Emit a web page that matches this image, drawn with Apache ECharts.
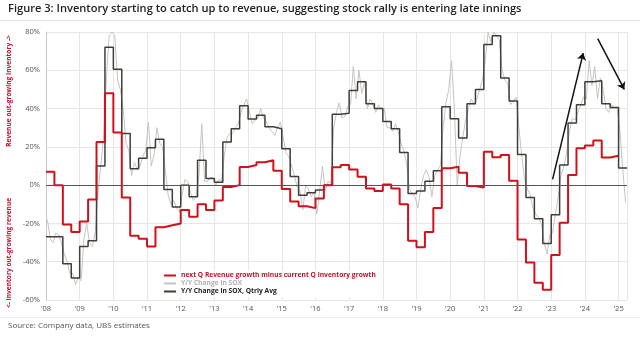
<!DOCTYPE html>
<html><head><meta charset="utf-8">
<script src="https://cdn.jsdelivr.net/npm/echarts@6/dist/echarts.min.js"></script>
<style>html,body{margin:0;padding:0;background:#fff}#c{width:640px;height:339px}</style>
</head><body><div id="c"></div>
<script>
// ---- data ----
const startYear = 2008;
// next Q Revenue growth minus current Q inventory growth, quarterly from 2008Q1 (%)
const redVals = [
  7, 0, -20.5, -24.5,
  -19, -7.5, 22.5, 48,
  27.5, -6.5, -26.5, -28,
  -32, -22, -21, -20,
  -13, -16.5, -10, -13,
  -8, -1, 0, 9.5,
  10.5, 12, 13, 7.5,
  -2, -8.5, -11, -12,
  -7, 0, 9.3, 10.5,
  8.2, 4.4, -1.7, -3,
  0.3, -1.7, -10, -29,
  -32.5, -24.5, -12, 8.8,
  9.6, 6.5, -0.5, -1.2,
  17.5, 14.6, 15.8, 2.3,
  -28.4, -40.4, -51, -54.7,
  -36.5, -19.6, 5.3, 19.3,
  20.7, 23.3, 14.4, 15.4
];
// Y/Y Change in SOX, Qtrly Avg, quarterly from 2008Q1 (%)
const blackVals = [
  -27, -27, -41, -48.5,
  -32, -29, 10, 72,
  60.5, 27, 8.5, 14,
  19.5, 24, -2.3, -11.4,
  0, -6, 13, 3.5,
  1.5, 22.5, 29.5, 41.5,
  34.5, 36.5, 30.5, 29.5,
  19, 4.5, -5.3, -4,
  -2.5, 0, 37, 37.5,
  49.5, 54, 42.5, 40,
  33.3, 29.5, 17, -4.4,
  -3, 2, 7.5, 41,
  34.7, 24.6, 42.5, 50,
  73.5, 78, 56, 44,
  16, -6.5, -17.5, -30.5,
  -15.5, 10.5, 32.5, 42,
  54, 54.5, 42.5, 40.5,
  9
];
// Y/Y Change in SOX, monthly from Jan 2008 (%)
const grayVals = [
  -18, -28, -30, -25, -26, -30, -36, -40, -46, -46, -52, -48,
  -50, -28, -20, -30, -32, -25, -5, 10, 25, 55, 78, 80,
  78, 55, 50, 40, 22, 18, 5, 12, 8, 10, 15, 18,
  33, 10, 16, 30, 22, 20, 8, -5, -10, -8, -12, -14,
  -5, 3, 2, -4, -8, -6, 5, 32, 2, 2, 4, 4,
  0, 3, 2, 15, 25, 27, 27, 30, 32, 38, 42, 45,
  38, 32, 34, 35, 40, 35, 33, 30, 28, 26, 30, 33,
  25, 17, 15, 10, 5, -1, -3, -13, 0, -2, -6, -4,
  -15, -3, 10, -3, 2, 1, 30, 38, 43, 35, 36, 41,
  42, 62, 45, 60, 48, 54, 40, 45, 42, 38, 42, 40,
  40, 30, 30, 28, 32, 28, 22, 18, 11, -2, -5, -6,
  -12, -2, 5, 8, 4, -6, 5, 8, 10, 30, 43, 50,
  65, 40, 0, 15, 25, 34, 40, 45, 42, 45, 50, 55,
  65, 80, 75, 80, 78, 76, 60, 55, 53, 42, 44, 46,
  30, 15, 3, -2, -5, -12, -15, -17, -20, -30, -36, -26,
  -25, -15, -6, 5, 10, 17, 28, 35, 34, 38, 42, 46,
  45, 65, 52, 62, 45, 56, 50, 40, 38, 42, 40, 40,
  28, 8, -9
];
const yearLabels = ["'08","'09","'10","'11","'12","'13","'14","'15","'16","'17","'18","'19","'20","'21","'22","'23","'24","'25"];
const yTicks = [-60, -40, -20, 0, 20, 40, 60, 80];
const seriesNames = ['next Q Revenue growth minus current Q inventory growth', 'Y/Y Change in SOX', 'Y/Y Change in SOX, Qtrly Avg'];
// annotation arrows: [[start year, start %], [end year, end %]]
const arrows = [
  [[2023.04, 3], [2023.95, 69]],
  [[2024.38, 76.5], [2025.17, 50]]
];

// ---- build series data ----
function quarterly(vals) {
  const d = vals.map((v, i) => [startYear + i / 4, v]);
  d.push([startYear + vals.length / 4, vals[vals.length - 1]]);
  return d;
}
const redData = quarterly(redVals);
const blackData = quarterly(blackVals);
const grayData = grayVals.map((v, i) => [startYear + (i + 0.5) / 12, v]);

const chart = echarts.init(document.getElementById('c'), null, { renderer: 'canvas' });
const FONT = 'Open Sans';
chart.setOption({
  animation: false,
  backgroundColor: '#fff',
  textStyle: { fontFamily: FONT },
  grid: { left: 46, right: 13, top: 32, bottom: 39 },
  xAxis: {
    type: 'value', min: startYear, max: 2025.25, interval: 1,
    axisLine: { show: false }, axisTick: { show: false },
    splitLine: { show: true, lineStyle: { color: '#e6e6e6', width: 1 } },
    axisLabel: {
      fontSize: 7.5, color: '#555', margin: 5, fontFamily: FONT,
      formatter: v => Number.isInteger(v) ? yearLabels[v - startYear] : ''
    }
  },
  yAxis: {
    type: 'value', min: yTicks[0], max: yTicks[yTicks.length - 1], interval: 20,
    axisLine: { show: true, lineStyle: { color: '#c8c8c8' } }, axisTick: { show: false },
    splitLine: { show: true, lineStyle: { color: '#e6e6e6', width: 1 } },
    axisLabel: { fontSize: 7.5, color: '#555', margin: 6, fontFamily: FONT, formatter: '{value}%' }
  },
  legend: {
    left: 160, top: 270, orient: 'vertical', itemGap: 1, itemWidth: 12, itemHeight: 2,
    icon: 'rect', backgroundColor: '#fff', padding: [2, 4, 2, 4],
    textStyle: { fontSize: 6.7, fontWeight: 'bold', fontFamily: FONT },
    data: [
      { name: seriesNames[0], textStyle: { color: '#c8102e' } },
      { name: seriesNames[1], textStyle: { color: '#b0b0b0' } },
      { name: seriesNames[2], textStyle: { color: '#222' } }
    ]
  },
  series: [
    {
      name: seriesNames[1], type: 'line', data: grayData, showSymbol: false, z: 2,
      lineStyle: { color: '#c4c4c4', width: 1 }, itemStyle: { color: '#c4c4c4' },
      markLine: {
        silent: true, symbol: ['none', 'none'], label: { show: false },
        lineStyle: { color: '#555', width: 1, type: 'solid' },
        data: [{ yAxis: 0 }]
      }
    },
    {
      name: seriesNames[2], type: 'line', step: 'end', data: blackData, showSymbol: false, z: 3,
      lineStyle: { color: '#433d38', width: 1.5 }, itemStyle: { color: '#433d38' },
      markLine: {
        silent: true, symbol: ['none', 'arrow'], symbolSize: 7, label: { show: false },
        lineStyle: { color: '#111', width: 1.5, type: 'solid' },
        data: arrows.map(a => [{ coord: a[0] }, { coord: a[1] }])
      }
    },
    {
      name: seriesNames[0], type: 'line', step: 'end', data: redData, showSymbol: false, z: 4,
      lineStyle: { color: '#d0111b', width: 2 }, itemStyle: { color: '#d0111b' }
    }
  ],
  graphic: [
    { type: 'text', left: 8, top: 3, style: { text: 'Figure 3: Inventory starting to catch up to revenue, suggesting stock rally is entering late innings', font: '600 11.1px "Open Sans"', fill: '#222' } },
    { type: 'line', shape: { x1: 0, y1: 20.5, x2: 640, y2: 20.5 }, style: { stroke: '#e2e2e2', lineWidth: 1 } },
    { type: 'line', shape: { x1: 0, y1: 317.5, x2: 640, y2: 317.5 }, style: { stroke: '#ececec', lineWidth: 1 } },
    { type: 'text', left: 8, top: 322, style: { text: 'Source: Company data, UBS estimates', font: '8px "Open Sans"', fill: '#555' } },
    { type: 'text', x: 9, y: 91, rotation: Math.PI / 2, style: { text: 'Revenue out-growing Inventory ->', font: 'bold 6.6px "Open Sans"', fill: '#c8102e', align: 'center', verticalAlign: 'middle' } },
    { type: 'text', x: 9, y: 253, rotation: Math.PI / 2, style: { text: '<- Inventory out-growing revenue', font: 'bold 6.6px "Open Sans"', fill: '#c8102e', align: 'center', verticalAlign: 'middle' } }
  ]
});
</script>
</body></html>
